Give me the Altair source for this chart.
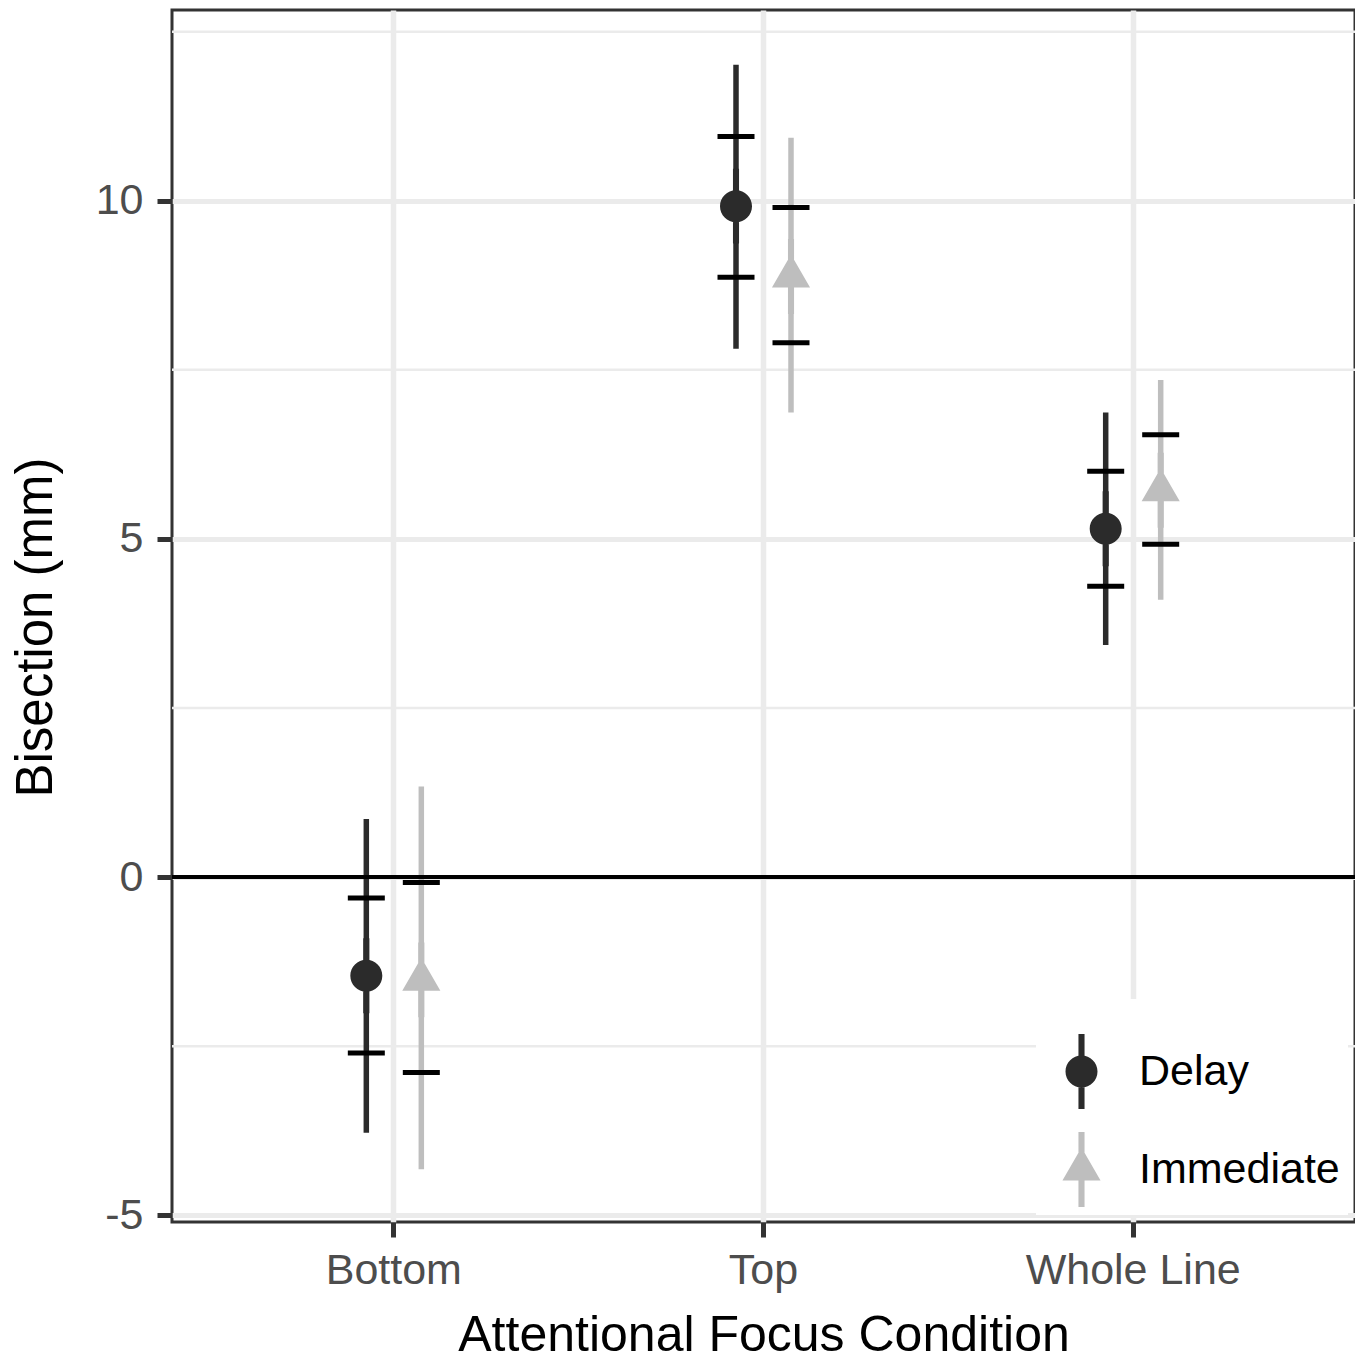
import altair as alt
import pandas as pd

# ---------------- data ----------------
conditions = ["Bottom", "Top", "Whole Line"]
groups = ["Delay", "Immediate"]

delay_mean = [-1.46, 9.92, 5.15]
delay_ci_lo = [-3.78, 7.81, 3.43]
delay_ci_hi = [0.86, 12.01, 6.87]
delay_se_lo = [-2.60, 8.87, 4.30]
delay_se_hi = [-0.31, 10.95, 6.00]

imm_mean = [-1.52, 8.88, 5.72]
imm_ci_lo = [-4.32, 6.87, 4.10]
imm_ci_hi = [1.34, 10.93, 7.35]
imm_se_lo = [-2.89, 7.90, 4.92]
imm_se_hi = [-0.08, 9.90, 6.54]

y_ticks = [-5, 0, 5, 10]
minor_grid = [-2.5, 2.5, 7.5, 12.5]
y_domain = [-5.10, 12.82]

# ---------------- build tables ----------------
rows = []
for g, m, cl, ch, sl, sh in [
    ("Delay", delay_mean, delay_ci_lo, delay_ci_hi, delay_se_lo, delay_se_hi),
    ("Immediate", imm_mean, imm_ci_lo, imm_ci_hi, imm_se_lo, imm_se_hi),
]:
    for i, c in enumerate(conditions):
        rows.append(dict(cond=c, group=g, mean=m[i], ci_lo=cl[i], ci_hi=ch[i],
                         se_lo=sl[i], se_hi=sh[i]))
df = pd.DataFrame(rows)
minor_df = pd.DataFrame({"y": minor_grid})
zero_df = pd.DataFrame({"y": [0]})

# ---------------- styles ----------------
FONT = "Liberation Sans"
COLORS = ["#2b2b2b", "#bebebe"]
# filled symbols with a short vertical bar through them (like the ggplot legend key)
CIRCLE_BAR = ("M-1,0 C-1,-0.5523 -0.5523,-1 0,-1 C0.5523,-1 1,-0.5523 1,0 "
              "C1,0.5523 0.5523,1 0,1 C-0.5523,1 -1,0.5523 -1,0 Z "
              "M-0.19,-2.34 L0.19,-2.34 L0.19,2.34 L-0.19,2.34 Z")
TRI_BAR = ("M0,-1.375 L1.191,0.6875 L-1.191,0.6875 Z "
           "M-0.19,-2.34 L0.19,-2.34 L0.19,2.34 L-0.19,2.34 Z")
SHAPES = [CIRCLE_BAR, TRI_BAR]

x_axis = alt.Axis(
    title="Attentional Focus Condition", labelAngle=0, bandPosition=0.5, labelLimit=0,
    grid=True, gridColor="#ebebeb", gridWidth=5.5,
    ticks=True, tickSize=15, tickWidth=5, tickColor="#333333", domain=False,
    labelFont=FONT, labelFontSize=43, labelColor="#4d4d4d", labelPadding=12,
    titleFont=FONT, titleFontSize=50, titleFontWeight="normal", titleColor="black",
    titleY=128, titleBaseline="alphabetic",
)
y_axis = alt.Axis(
    title="Bisection (mm)", values=y_ticks, labelExpr="'' + datum.value",
    grid=True, gridColor="#ebebeb", gridWidth=5,
    ticks=True, tickSize=15, tickWidth=5, tickColor="#333333", domain=False,
    labelFont=FONT, labelFontSize=43, labelColor="#4d4d4d", labelPadding=14,
    titleFont=FONT, titleFontSize=51, titleFontWeight="normal", titleColor="black",
    titleX=-121, titleY=617, titleAngle=-90, titleAlign="center",
    titleBaseline="alphabetic",
)
x_scale = alt.Scale(type="band", domain=conditions, paddingInner=0, paddingOuter=0.1)
xoff_scale = alt.Scale(type="band", domain=groups, paddingInner=0, paddingOuter=0,
                       range=[129.85, 239.85])
y_scale = alt.Scale(domain=y_domain, nice=False, zero=False)

legend = alt.Legend(
    title=" ", titleFontSize=18, titlePadding=25,
    orient="bottom-right", offset=7,
    fillColor="white", padding=8,
    labelFont=FONT, labelFontSize=43, labelColor="black",
    symbolStrokeWidth=0, symbolSize=1024, symbolOffset=16, labelOffset=36,
    rowPadding=23, labelLimit=0,
)

X = alt.X("cond:N", scale=x_scale, axis=x_axis)
XO = alt.XOffset("group:N", scale=xoff_scale)

minor = alt.Chart(minor_df).mark_rule(color="#ebebeb", strokeWidth=2.5).encode(
    y=alt.Y("y:Q", scale=y_scale, axis=y_axis)
)

# stroke scale listed in reverse order so it is not merged with the (visible) legend
ci = alt.Chart(df).mark_rule(strokeWidth=5.5).encode(
    x=X, xOffset=XO,
    y=alt.Y("ci_lo:Q", scale=y_scale, axis=y_axis),
    y2="ci_hi:Q",
    stroke=alt.Stroke("group:N",
                      scale=alt.Scale(domain=groups[::-1], range=COLORS[::-1]),
                      legend=None),
)

se = alt.Chart(df).transform_fold(["se_lo", "se_hi"], as_=["k", "v"]).mark_tick(
    color="black", size=37, thickness=5, orient="horizontal", opacity=1
).encode(
    x=X, xOffset=XO,
    y=alt.Y("v:Q", scale=y_scale, axis=y_axis),
)

zero = alt.Chart(zero_df).mark_rule(color="black", strokeWidth=4).encode(
    y=alt.Y("y:Q", scale=y_scale, axis=y_axis)
)

pts = alt.Chart(df).mark_point(filled=True, opacity=1, strokeWidth=0, size=1024).encode(
    x=X, xOffset=XO,
    y=alt.Y("mean:Q", scale=y_scale, axis=y_axis),
    color=alt.Color("group:N", scale=alt.Scale(domain=groups, range=COLORS), legend=legend),
    shape=alt.Shape("group:N", scale=alt.Scale(domain=groups, range=SHAPES), legend=legend),
)

chart = alt.layer(minor, ci, se, zero, pts).properties(
    width=1183, height=1212,
    autosize=alt.AutoSizeParams(type="none"),
    padding={"left": 164, "top": 2, "right": 0, "bottom": 135},
    background="white",
).configure_view(stroke="#333333", strokeWidth=3)

chart.save("out.html", embed_options={"renderer": "svg", "actions": False})
